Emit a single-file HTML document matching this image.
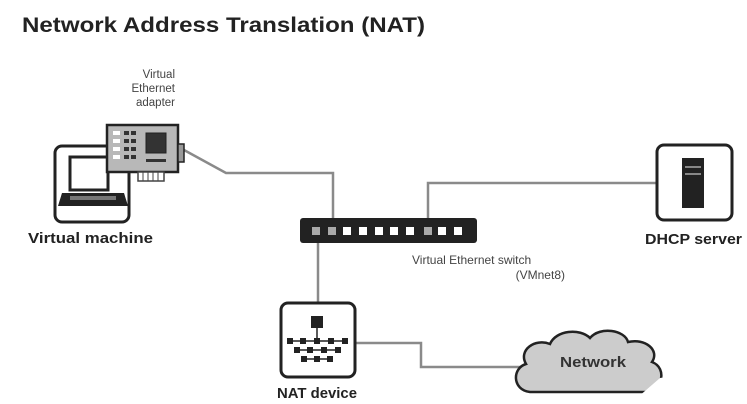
<!DOCTYPE html>
<html><head><meta charset="utf-8"><style>
html,body{margin:0;padding:0;background:#fff;}
svg{display:block;}
text{font-family:"Liberation Sans",sans-serif;}
</style></head><body>
<svg width="747" height="404" viewBox="0 0 747 404" xmlns="http://www.w3.org/2000/svg">
<rect width="747" height="404" fill="#fff"/>
<text x="22" y="32" font-size="21" font-weight="bold" fill="#222" textLength="403" lengthAdjust="spacingAndGlyphs">Network Address Translation (NAT)</text>

<g stroke="#8a8a8a" stroke-width="2.5" fill="none">
<polyline points="184,150 226,173 333,173 333,226"/>
<polyline points="428,226 428,183 657,183"/>
<polyline points="318,236 318,303"/>
<polyline points="355,343 421,343 421,367 522,367"/>
</g>

<rect x="55" y="146" width="74" height="76" rx="7" fill="#fff" stroke="#222" stroke-width="3"/>
<rect x="70" y="157" width="38" height="33" fill="#fff" stroke="#222" stroke-width="3"/>
<path d="M62,193 L124,193 L128,206 L58,206 Z" fill="#222"/>
<rect x="70" y="196" width="46" height="4" fill="#777"/>
<text x="28" y="243" font-size="15" font-weight="bold" fill="#222" textLength="125" lengthAdjust="spacingAndGlyphs">Virtual machine</text>

<rect x="107" y="125" width="71" height="47" fill="#b8b8b8" stroke="#222" stroke-width="2.5"/>
<rect x="178" y="144" width="6" height="18" fill="#999" stroke="#222" stroke-width="1.5"/>
<rect x="138" y="172" width="26" height="9" fill="#fff" stroke="#444" stroke-width="1.5"/>
<g stroke="#444" stroke-width="1"><line x1="143" y1="172" x2="143" y2="181"/><line x1="148" y1="172" x2="148" y2="181"/><line x1="153" y1="172" x2="153" y2="181"/><line x1="158" y1="172" x2="158" y2="181"/></g>
<g fill="#fff"><rect x="113" y="131" width="7" height="4"/><rect x="113" y="139" width="7" height="4"/><rect x="113" y="147" width="7" height="4"/><rect x="113" y="155" width="7" height="4"/></g>
<g fill="#333"><rect x="124" y="131" width="5" height="4"/><rect x="131" y="131" width="5" height="4"/><rect x="124" y="139" width="5" height="4"/><rect x="131" y="139" width="5" height="4"/><rect x="124" y="147" width="5" height="4"/><rect x="131" y="147" width="5" height="4"/><rect x="124" y="155" width="5" height="4"/><rect x="131" y="155" width="5" height="4"/></g>
<rect x="146" y="133" width="20" height="20" fill="#333" stroke="#222"/>
<rect x="146" y="159" width="20" height="3" fill="#333"/>
<text font-size="11.5" fill="#444" text-anchor="end"><tspan x="175" y="78">Virtual</tspan><tspan x="175" y="92">Ethernet</tspan><tspan x="175" y="106">adapter</tspan></text>

<rect x="300" y="218" width="177" height="25" rx="3" fill="#222"/>
<g fill="#fff">
<rect x="312" y="227" width="8" height="8" fill="#aaa"/><rect x="328" y="227" width="8" height="8" fill="#aaa"/>
<rect x="343" y="227" width="8" height="8"/><rect x="359" y="227" width="8" height="8"/><rect x="375" y="227" width="8" height="8"/><rect x="390" y="227" width="8" height="8"/><rect x="406" y="227" width="8" height="8"/>
<rect x="424" y="227" width="8" height="8" fill="#aaa"/><rect x="438" y="227" width="8" height="8"/><rect x="454" y="227" width="8" height="8"/>
</g>
<text x="412" y="264" font-size="12" fill="#444">Virtual Ethernet switch</text>
<text x="565" y="279" font-size="12" fill="#444" text-anchor="end">(VMnet8)</text>

<rect x="657" y="145" width="75" height="75" rx="7" fill="#fff" stroke="#222" stroke-width="3"/>
<rect x="682" y="158" width="22" height="50" fill="#222"/>
<rect x="685" y="166" width="16" height="2" fill="#888"/><rect x="685" y="173" width="16" height="2" fill="#888"/>
<text x="645" y="244" font-size="15" font-weight="bold" fill="#222" textLength="97" lengthAdjust="spacingAndGlyphs">DHCP server</text>

<rect x="281" y="303" width="74" height="74" rx="7" fill="#fff" stroke="#222" stroke-width="3"/>
<rect x="311" y="316" width="12" height="12" fill="#222"/>
<g stroke="#222" stroke-width="1.5"><line x1="317" y1="328" x2="317" y2="341"/><line x1="290" y1="341" x2="346" y2="341"/><line x1="296" y1="350" x2="340" y2="350"/><line x1="302" y1="359" x2="332" y2="359"/></g>
<g fill="#222">
<rect x="287" y="338" width="6" height="6"/><rect x="300" y="338" width="6" height="6"/><rect x="314" y="338" width="6" height="6"/><rect x="328" y="338" width="6" height="6"/><rect x="342" y="338" width="6" height="6"/>
<rect x="294" y="347" width="6" height="6"/><rect x="307" y="347" width="6" height="6"/><rect x="321" y="347" width="6" height="6"/><rect x="335" y="347" width="6" height="6"/>
<rect x="301" y="356" width="6" height="6"/><rect x="314" y="356" width="6" height="6"/><rect x="327" y="356" width="6" height="6"/>
</g>
<text x="277" y="398" font-size="15" font-weight="bold" fill="#222" textLength="80" lengthAdjust="spacingAndGlyphs">NAT device</text>

<path d="M530,392 C512,390 512,368 526,364 C518,350 535,338 550,344 C556,330 580,328 590,338 C600,326 625,330 628,342 C645,338 660,350 652,362 C668,368 662,392 645,392 Z" fill="#ccc" stroke="#222" stroke-width="2.5"/>
<text x="560" y="367" font-size="15" font-weight="bold" fill="#333" textLength="66" lengthAdjust="spacingAndGlyphs">Network</text>
<path d="M630,404 L660,378 L747,365 L747,404 Z" fill="#fff"/>
</svg>
</body></html>
